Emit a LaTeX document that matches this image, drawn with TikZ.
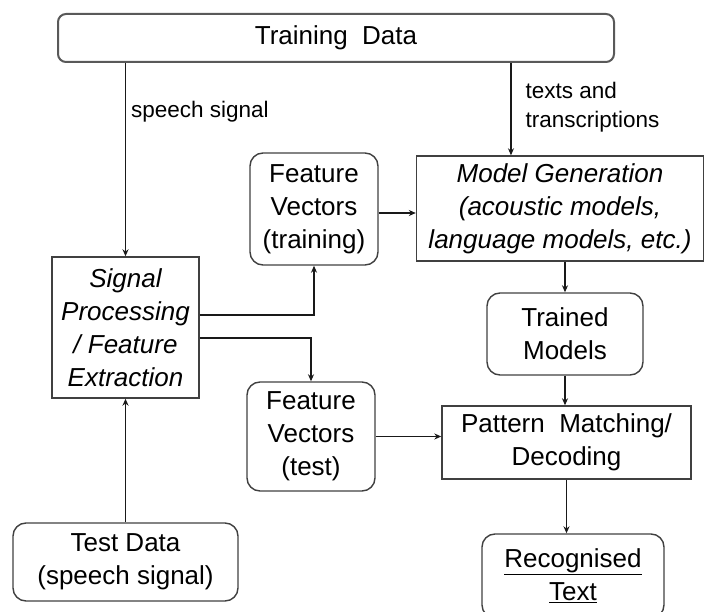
\documentclass[tikz,border=0pt]{standalone}
\usepackage{fontspec}
\setmainfont{Liberation Sans}
\usetikzlibrary{calc}
\usetikzlibrary{arrows.meta}
\usetikzlibrary{positioning}

\tikzset{
  procbox/.style={draw=black!75, line width=1.4pt, rectangle, inner sep=0pt, align=center, font=\fontsize{26}{33}\selectfont},
  databox/.style={procbox, rounded corners=13pt},
  edgelabel/.style={inner sep=0pt, align=left, font=\fontsize{22.5}{29}\selectfont},
  flow/.style={draw=black!90, line width=1.2pt, -{Stealth[length=7pt,width=6pt]}}
}

\begin{document}
\begin{tikzpicture}[x=1pt,y=-1pt]
\useasboundingbox (0,0) rectangle (704,612);
\clip (0,0) rectangle (704,612);
% Training data (node)
\node[databox, rounded corners=8pt, draw=black!65, line width=2pt, minimum width=556pt, minimum height=48pt] (train) at (336,38) {Training\ \ Data};
% Processing steps (rectangles)
\node[procbox, minimum width=147pt, minimum height=141pt, font=\fontsize{26}{33}\selectfont\itshape] (sp) at (125.5,327.5) {Signal\\Processing\\/ Feature\\Extraction};
\node[procbox, minimum width=287pt, minimum height=105pt, font=\fontsize{26}{33}\selectfont\itshape] (mg) at (560,208.5) {Model Generation\\(acoustic models,\\language models, etc.)};
\node[procbox, minimum width=249pt, minimum height=73pt] (pm) at (566.5,442.5) {Pattern\ \ Matching/\\Decoding};
% Data (rounded nodes)
\node[databox, minimum width=128pt, minimum height=112pt] (fvtrain) at (314,209) {Feature\\Vectors\\(training)};
\node[databox, minimum width=128pt, minimum height=109pt] (fvtest) at (311,436.5) {Feature\\Vectors\\(test)};
\node[databox, minimum width=156pt, minimum height=82pt] (tm) at (565,334) {Trained\\Models};
\node[databox, minimum width=225pt, minimum height=78pt] (testdata) at (125.5,562) {Test Data\\(speech signal)};
\node[databox, minimum width=182pt, minimum height=84pt] (rec) at (573,576) {\underline{Recognised}\\\underline{Text}};
% Arrows
\coordinate (mgin) at ($(mg.north west)!0.33!(mg.north east)$);
\draw[flow] (train.south -| sp.north) -- node[edgelabel, right=5pt, pos=0.25] (lblspeech) {speech signal} (sp.north);
\draw[flow] (train.south -| mgin) -- node[edgelabel, right=14pt, pos=0.48] (lbltexts) {texts and\\transcriptions} (mgin);
\draw[flow] ([yshift=12.5pt]sp.east) -| (fvtrain.south);
\draw[flow] ([yshift=-10.5pt]sp.east) -| (fvtest.north);
\draw[flow] ([yshift=-4pt]fvtrain.east) -- ([yshift=-4pt]fvtrain.east -| mg.west);
\draw[flow] (fvtest.east) -- (fvtest.east -| pm.west);
\draw[flow] (mg.south -| tm.north) -- (tm.north);
\draw[flow] (tm.south) -- (tm.south |- pm.north);
\draw[flow] (pm.south) -- (pm.south |- rec.north);
\draw[flow] (testdata.north) -- (sp.south);
\end{tikzpicture}
\end{document}
